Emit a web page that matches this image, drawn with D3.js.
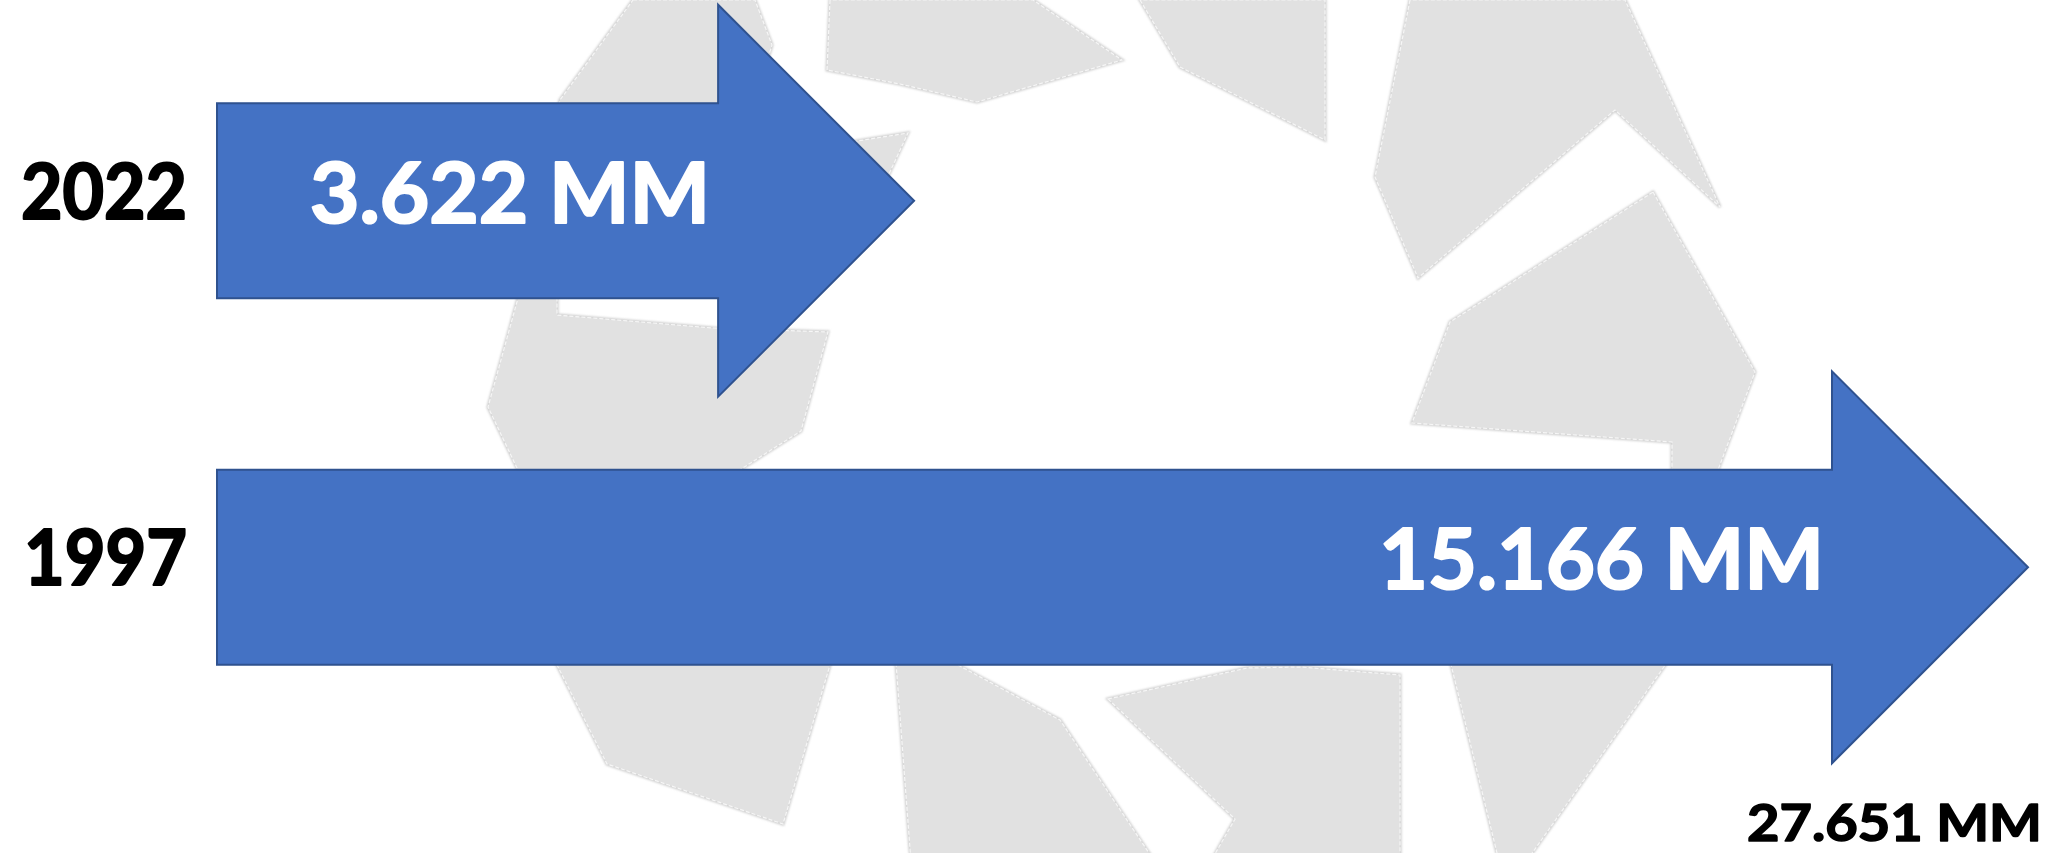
<!DOCTYPE html>
<html>
<head>
<meta charset="utf-8">
<script src="https://cdn.jsdelivr.net/npm/d3@7"></script>
<style>
  html, body { margin: 0; padding: 0; background: #ffffff; overflow: hidden; }
  svg { display: block; }
</style>
</head>
<body>
<svg id="chart" width="2060" height="853"></svg>
<script>
// ---- data ----
const categories = ["2022", "1997"];
const values = [3.622, 15.166];
const valueLabels = ["3.622 MM", "15.166 MM"];
const totalLabel = "27.651 MM";

// ---- decorative background watermark (grey shards) ----
const logoShards = [
  [[633,0],[755,0],[772,45],[740,150],[700,290],[557,296],[557,315],[713,328],[828,332],[801,431],[716,485],[525,485],[488,407],[518,298],[560,100]],
  [[800,150],[908,133],[870,215],[800,250]],
  [[830,0],[827,70],[900,84],[977,102],[1122,60],[1033,0]],
  [[1140,0],[1180,67],[1325,140],[1325,0]],
  [[1410,0],[1375,177],[1418,278],[1615,110],[1720,207],[1625,0]],
  [[1653,192],[1755,372],[1718,470],[1700,500],[1672,500],[1672,442],[1412,423],[1450,322]],
  [[1445,640],[1683,640],[1506,890]],
  [[1108,699],[1247,668],[1300,667],[1400,675],[1400,880],[1200,880],[1235,819]],
  [[895,650],[958,650],[958,665],[1060,720],[1155,862],[911,862]],
  [[540,640],[840,640],[830,665],[783,824],[607,764],[557,665]]
];

const W = 2060, H = 853;
const svg = d3.select("#chart");
const defs = svg.append("defs");
defs.append("filter").attr("id", "soft")
  .attr("x", "-5%").attr("y", "-5%").attr("width", "110%").attr("height", "110%")
  .append("feGaussianBlur").attr("stdDeviation", 1.3);

const line = d3.line();
const bg = svg.append("g");
bg.selectAll("path.halo").data(logoShards).join("path")
  .attr("class", "halo")
  .attr("d", d => line(d) + "Z")
  .attr("fill", "#e0e0e0")
  .attr("stroke", "#cdcdcd")
  .attr("stroke-width", 3)
  .attr("filter", "url(#soft)");
bg.selectAll("path.shard").data(logoShards).join("path")
  .attr("class", "shard")
  .attr("d", d => line(d) + "Z")
  .attr("fill", "#e1e1e1")
  .attr("stroke", "#f6f6f6")
  .attr("stroke-width", 1.2)
  .attr("stroke-dasharray", "4 2");

// ---- scales ----
const x = d3.scalePow().exponent(2 / 3)
  .domain([0, d3.max(values)])
  .range([217, 2028]);
const y = d3.scalePoint()
  .domain(categories)
  .range([200.7, 567.3]);

const headLen = 196, headHalf = 196, bodyHalf = 97.5;

function arrowPath(v, cat) {
  const x0 = x(0), tip = x(v), hs = tip - headLen, cy = y(cat);
  const p = d3.path();
  p.moveTo(x0, cy - bodyHalf);
  p.lineTo(hs, cy - bodyHalf);
  p.lineTo(hs, cy - headHalf);
  p.lineTo(tip, cy);
  p.lineTo(hs, cy + headHalf);
  p.lineTo(hs, cy + bodyHalf);
  p.lineTo(x0, cy + bodyHalf);
  p.closePath();
  return p.toString();
}

const rows = categories.map((c, i) => ({ cat: c, v: values[i], label: valueLabels[i] }));

const fontFam = "Lato, 'Open Sans', 'Liberation Sans', sans-serif";

const g = svg.append("g");
g.selectAll("path.arrow").data(rows).join("path")
  .attr("class", "arrow")
  .attr("d", d => arrowPath(d.v, d.cat))
  .attr("fill", "#4472C4")
  .attr("stroke", "#2F528F")
  .attr("stroke-width", 2)
  .attr("stroke-linejoin", "miter");

// year labels
const yearLen = { "2022": 166, "1997": 163 };
g.selectAll("text.year").data(rows).join("text")
  .attr("class", "year")
  .attr("x", 187)
  .attr("y", d => y(d.cat) + 18)
  .attr("text-anchor", "end")
  .attr("font-family", fontFam)
  .attr("font-weight", 700)
  .attr("font-size", 77)
  .attr("fill", "#000000")
  .attr("stroke", "#000000")
  .attr("stroke-width", 2.2)
  .attr("stroke-linejoin", "round")
  .attr("textLength", d => yearLen[d.cat])
  .attr("lengthAdjust", "spacingAndGlyphs")
  .text(d => d.cat);

// value labels inside arrows
const valLen = { "2022": 400, "1997": 445 };
g.selectAll("text.val").data(rows).join("text")
  .attr("class", "val")
  .attr("x", d => x(d.v) - headLen - 8)
  .attr("y", d => y(d.cat) + 22)
  .attr("text-anchor", "end")
  .attr("font-family", fontFam)
  .attr("font-weight", 700)
  .attr("font-size", 84)
  .attr("fill", "#ffffff")
  .attr("stroke", "#ffffff")
  .attr("stroke-width", 2.2)
  .attr("stroke-linejoin", "round")
  .attr("textLength", d => valLen[d.cat])
  .attr("lengthAdjust", "spacingAndGlyphs")
  .text(d => d.label);

// total label at bottom right
g.append("text")
  .attr("x", x(d3.max(values)) + 14)
  .attr("y", 841)
  .attr("text-anchor", "end")
  .attr("font-family", fontFam)
  .attr("font-weight", 700)
  .attr("font-size", 52)
  .attr("fill", "#000000")
  .attr("stroke", "#000000")
  .attr("stroke-width", 1.6)
  .attr("stroke-linejoin", "round")
  .attr("textLength", 295)
  .attr("lengthAdjust", "spacingAndGlyphs")
  .text(totalLabel);
</script>
</body>
</html>
